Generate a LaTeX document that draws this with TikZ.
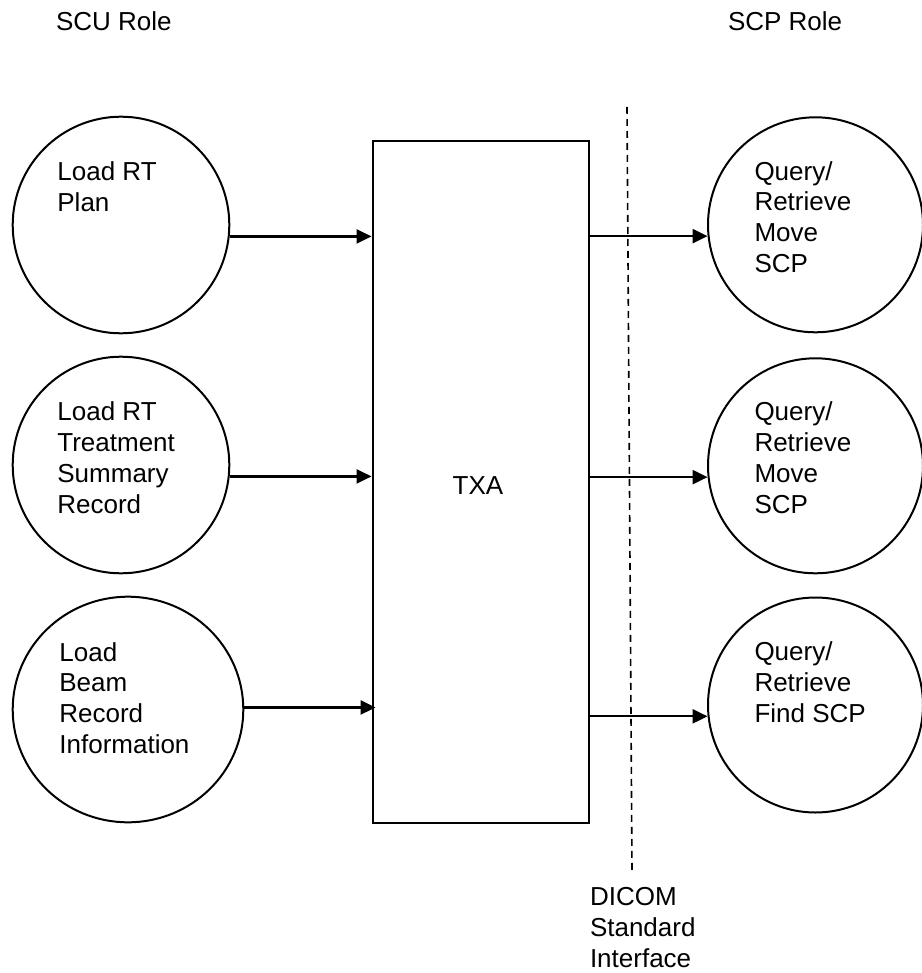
\documentclass[tikz,border=0pt]{standalone}
\usepackage{fontspec}
\setmainfont{Liberation Sans}
\usetikzlibrary{arrows.meta,shapes.geometric}
\begin{document}
\begin{tikzpicture}[x=1pt,y=-1pt,
  txt/.style={font=\fontsize{26}{30.8}\selectfont, inner sep=0pt, align=left, anchor=base west},
  proc/.style={draw, line width=2pt, ellipse, inner sep=0pt},
  flow/.style={line width=2.3pt, -{Triangle[length=15pt,width=14pt]}},
  iface/.style={line width=1.6pt, dash pattern=on 7pt off 5pt}]
\useasboundingbox (0,0) rectangle (921,973);
% circles
\node[proc, minimum width=216.6pt, minimum height=216.6pt] (c1) at (121,225) {};
\node[proc, minimum width=216.6pt, minimum height=216.6pt] (c2) at (121,465) {};
\node[proc, minimum width=230.6pt, minimum height=225.6pt] (c3) at (128,709.5) {};
\node[proc, minimum width=215pt, minimum height=215pt] (r1) at (815.5,224.8) {};
\node[proc, minimum width=215pt, minimum height=215pt] (r2) at (815.5,465.8) {};
\node[proc, minimum width=215pt, minimum height=215pt] (r3) at (815.5,705) {};
% TXA box
\node[draw, line width=2.3pt, minimum width=216.6pt, minimum height=682pt, inner sep=0pt] (txa) at (481,481.7) {};
\node[font=\fontsize{26}{31}\selectfont, inner sep=0pt] (txalbl) at (478,486) {TXA};
% interface line
\coordinate (dtop) at (627,107);
\coordinate (dbot) at (632,870);
\draw[iface] (dtop) -- (dbot);
% labels (anchor is the baseline of the last line)
\node[txt] (scu) at (55.8,30.7) {SCU Role};
\node[txt] (scp) at (727.8,30.7) {SCP Role};
\node[txt] (t1) at (57.2,211.7) {Load RT\\Plan};
\node[txt] (t2) at (57.2,513) {Load RT\\Treatment\\Summary\\Record};
\node[txt] (t3) at (59.2,753.5) {Load\\Beam\\Record\\Information};
\node[txt] (u1) at (754.3,272.5) {Query/\\Retrieve\\Move\\SCP};
\node[txt] (u2) at (754.3,513) {Query/\\Retrieve\\Move\\SCP};
\node[txt] (u3) at (754.3,722) {Query/\\Retrieve\\Find SCP};
\node[txt] (dicom) at (589.8,967) {DICOM\\Standard\\Interface};
% connectors
\draw[flow] (c1.-6.2) -- (c1.-6.2 -| txa.west);
\draw[flow] (c2.-6.5) -- (c2.-6.5 -| txa.west);
\draw[flow] (c3.1.2) -- ([xshift=4pt]c3.1.2 -| txa.west);
\draw[flow] (r1.186.35 -| txa.east) -- (r1.186.35);
\draw[flow] (r2.186.1 -| txa.east) -- (r2.186.1);
\draw[flow] (r3.186.2 -| txa.east) -- (r3.186.2);
\end{tikzpicture}
\end{document}
